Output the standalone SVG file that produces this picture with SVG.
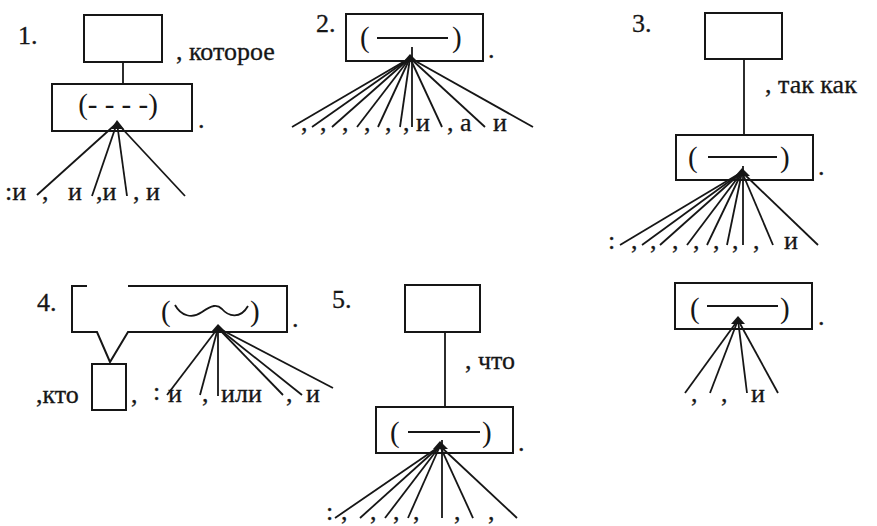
<svg xmlns="http://www.w3.org/2000/svg" width="877" height="526" viewBox="0 0 877 526">
<style>
.box{fill:none;stroke:#161616;stroke-width:2}
.ln{stroke:#161616;stroke-width:1.8;fill:none}
.t{font-size:26px;fill:#161616;stroke:#161616;stroke-width:0.3}
.p{font-size:29px;fill:#161616}
.ap{fill:#161616}
</style>
<rect width="877" height="526" fill="#ffffff"/>
<g font-family="Liberation Serif, DejaVu Serif, serif">

<!-- Diagram 1 -->
<g id="d1">
<text class="t" x="18" y="44">1.</text>
<g id="d1-main"><rect class="box" x="84" y="15" width="78" height="47"/></g>
<text class="t" x="176" y="60">, которое</text>
<g id="d1-sub"><rect class="box" x="52" y="84" width="140" height="47"/>
<text class="p" x="118" y="114" text-anchor="middle">(- - - -)</text></g>
<text class="t" x="198" y="128">.</text>
<text class="t" x="5" y="200">:и</text>
<text class="t" x="42" y="200">,</text>
<text class="t" x="68" y="200">и</text>
<text class="t" x="96" y="200">,и</text>
<text class="t" x="133" y="200">, и</text>
</g>

<!-- Diagram 2 -->
<g id="d2">
<text class="t" x="316" y="32">2.</text>
<g id="d2-main"><rect class="box" x="346" y="14" width="137" height="47"/>
<text class="p" x="360" y="47">(</text><line class="ln" x1="377" y1="38" x2="448" y2="38"/><text class="p" x="452" y="47">)</text></g>
<text class="t" x="488" y="58">.</text>
<text class="t" x="301" y="131">,</text>
<text class="t" x="320" y="131">,</text>
<text class="t" x="342" y="131">,</text>
<text class="t" x="364" y="131">,</text>
<text class="t" x="385" y="131">,</text>
<text class="t" x="403" y="131">,</text>
<text class="t" x="416" y="131">и</text>
<text class="t" x="447" y="131">, а</text>
<text class="t" x="493" y="131">и</text>
</g>

<!-- Diagram 3 -->
<g id="d3">
<text class="t" x="632" y="32">3.</text>
<g id="d3-main"><rect class="box" x="705" y="13" width="77" height="46"/></g>
<text class="t" x="765" y="93">, так как</text>
<g id="d3-sub"><rect class="box" x="676" y="135" width="137" height="45"/>
<text class="p" x="688" y="167">(</text><line class="ln" x1="708" y1="157" x2="777" y2="157"/><text class="p" x="780" y="167">)</text></g>
<text class="t" x="818" y="175">.</text>
<text class="t" x="608" y="249">:</text>
<text class="t" x="631" y="249">,</text>
<text class="t" x="650" y="249">,</text>
<text class="t" x="672" y="249">,</text>
<text class="t" x="693" y="249">,</text>
<text class="t" x="713" y="249">,</text>
<text class="t" x="732" y="249">,</text>
<text class="t" x="753" y="249">,</text>
<text class="t" x="784" y="249">и</text>
</g>

<!-- Diagram 4 -->
<g id="d4">
<text class="t" x="37" y="311">4.</text>
<g id="d4-main"><path class="box" d="M87,286 H72 V332 H97 L110,362 L128,332 H287 V286 H128"/>
<text class="p" x="161" y="321">(</text><path class="ln" d="M175,305 C181,316 192,319 202,312 S217,304 222,309 C228,316 240,320 248,306"/><text class="p" x="250" y="321">)</text></g>
<text class="t" x="292" y="327">.</text>
<g id="d4-sub"><rect class="box" x="92" y="364" width="34" height="46"/></g>
<text class="t" x="36" y="403">,кто</text>
<text class="t" x="131" y="403">,</text>
<text class="t" x="153" y="400">:</text>
<text class="t" x="168" y="402">и</text>
<text class="t" x="202" y="402">,</text>
<text class="t" x="221" y="402">или</text>
<text class="t" x="286" y="402">,</text>
<text class="t" x="306" y="402">и</text>
</g>

<!-- Diagram 5 -->
<g id="d5">
<text class="t" x="332" y="308">5.</text>
<g id="d5-main"><rect class="box" x="405" y="285" width="75" height="47"/></g>
<text class="t" x="465" y="369">, что</text>
<g id="d5-sub"><rect class="box" x="376" y="407" width="137" height="46"/>
<text class="p" x="390" y="442">(</text><line class="ln" x1="408" y1="432" x2="480" y2="432"/><text class="p" x="482" y="442">)</text></g>
<text class="t" x="518" y="451">.</text>
<text class="t" x="326" y="520">:</text>
<text class="t" x="341" y="520">,</text>
<text class="t" x="370" y="520">,</text>
<text class="t" x="393" y="520">,</text>
<text class="t" x="413" y="520">,</text>
<text class="t" x="454" y="520">,</text>
<text class="t" x="488" y="520">,</text>
</g>

<!-- Diagram 6 -->
<g id="d6">
<g id="d6-main"><rect class="box" x="675" y="283" width="137" height="46"/>
<text class="p" x="690" y="318">(</text><line class="ln" x1="707" y1="306" x2="778" y2="306"/><text class="p" x="780" y="318">)</text></g>
<text class="t" x="818" y="325">.</text>
<text class="t" x="691" y="402">,</text>
<text class="t" x="721" y="402">,</text>
<text class="t" x="751" y="402">и</text>
</g>
</g>

<!-- Connectors -->
<g id="connectors">
<line class="ln" x1="123" y1="62" x2="123" y2="84"/>
<polygon class="ap" points="111,129 124,129 117,120"/>
<line class="ln" x1="117" y1="123" x2="37" y2="195"/>
<line class="ln" x1="117" y1="123" x2="92" y2="196"/>
<line class="ln" x1="117" y1="123" x2="127" y2="196"/>
<line class="ln" x1="117" y1="123" x2="185" y2="196"/>

<polygon class="ap" points="403,62 418,62 410,54"/>
<line class="ln" x1="412" y1="47" x2="412" y2="127"/>
<line class="ln" x1="410" y1="58" x2="292" y2="127"/>
<line class="ln" x1="410" y1="58" x2="312" y2="127"/>
<line class="ln" x1="410" y1="58" x2="332" y2="127"/>
<line class="ln" x1="410" y1="58" x2="357" y2="127"/>
<line class="ln" x1="410" y1="58" x2="378" y2="127"/>
<line class="ln" x1="410" y1="58" x2="400" y2="127"/>
<line class="ln" x1="410" y1="58" x2="442" y2="127"/>
<line class="ln" x1="410" y1="58" x2="485" y2="127"/>
<line class="ln" x1="410" y1="58" x2="533" y2="127"/>

<line class="ln" x1="744" y1="59" x2="744" y2="135"/>
<polygon class="ap" points="735,176 750,176 742,168"/>
<line class="ln" x1="743" y1="166" x2="743" y2="245"/>
<line class="ln" x1="742" y1="172" x2="620" y2="245"/>
<line class="ln" x1="742" y1="172" x2="642" y2="245"/>
<line class="ln" x1="742" y1="172" x2="660" y2="245"/>
<line class="ln" x1="742" y1="172" x2="687" y2="245"/>
<line class="ln" x1="742" y1="172" x2="707" y2="245"/>
<line class="ln" x1="742" y1="172" x2="727" y2="245"/>
<line class="ln" x1="742" y1="172" x2="773" y2="245"/>
<line class="ln" x1="742" y1="172" x2="818" y2="245"/>

<polygon class="ap" points="211,332 226,332 218,324"/>
<line class="ln" x1="218" y1="326" x2="218" y2="396"/>
<line class="ln" x1="218" y1="328" x2="167" y2="395"/>
<line class="ln" x1="218" y1="328" x2="200" y2="395"/>
<line class="ln" x1="218" y1="328" x2="283" y2="395"/>
<line class="ln" x1="218" y1="328" x2="302" y2="395"/>
<line class="ln" x1="218" y1="328" x2="333" y2="388"/>

<line class="ln" x1="445" y1="332" x2="445" y2="407"/>
<polygon class="ap" points="433,449 448,449 440,441"/>
<line class="ln" x1="442" y1="440" x2="442" y2="518"/>
<line class="ln" x1="440" y1="446" x2="335" y2="518"/>
<line class="ln" x1="440" y1="446" x2="360" y2="518"/>
<line class="ln" x1="440" y1="446" x2="385" y2="518"/>
<line class="ln" x1="440" y1="446" x2="408" y2="518"/>
<line class="ln" x1="440" y1="446" x2="473" y2="518"/>
<line class="ln" x1="440" y1="446" x2="517" y2="518"/>

<polygon class="ap" points="731,324 745,324 738,316"/>
<line class="ln" x1="738" y1="320" x2="685" y2="393"/>
<line class="ln" x1="738" y1="320" x2="710" y2="393"/>
<line class="ln" x1="738" y1="320" x2="747" y2="393"/>
<line class="ln" x1="738" y1="320" x2="778" y2="393"/>
</g>
</svg>
